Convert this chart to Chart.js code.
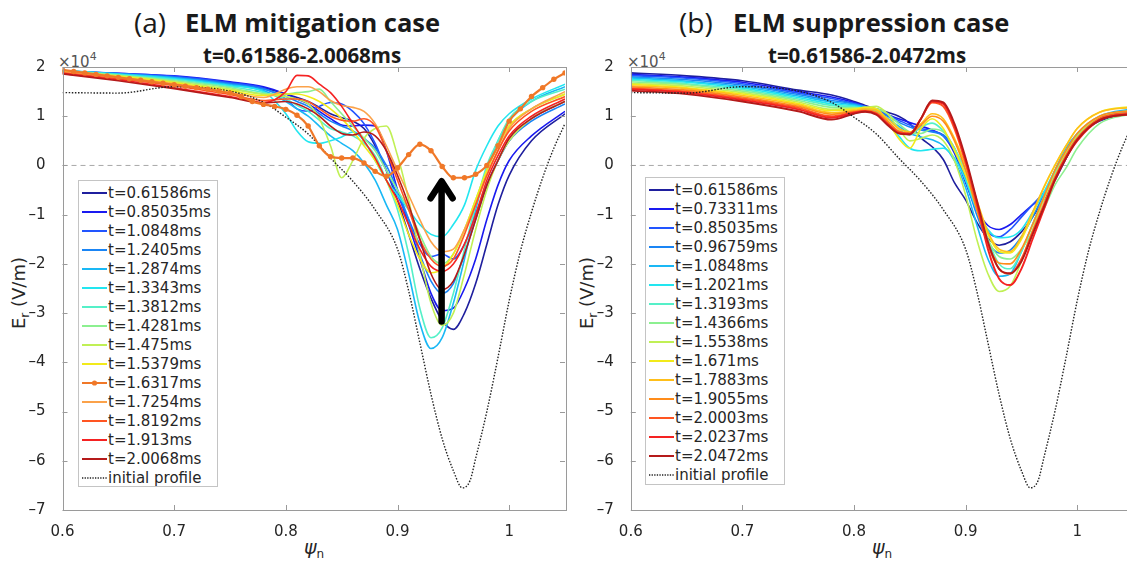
<!DOCTYPE html>
<html>
<head>
<meta charset="utf-8">
<title>Er profiles</title>
<script src="https://cdn.jsdelivr.net/npm/chart.js@4.4.1/dist/chart.umd.min.js"></script>
<style>
  body { margin: 0; width: 1127px; height: 565px; overflow: hidden; background: #fff; position: relative; font-family: "DejaVu Sans", sans-serif; }
  .abs { position: absolute; white-space: nowrap; color: #262626; line-height: 1; }
  .ttlA { font-family: "Open Sans"; font-size: 28px; color: #1a1a1a; }
  .ttlB { font-family: "Open Sans"; font-weight: 700; font-size: 25.5px; color: #1a1a1a; }
  .sub { font-family: "Open Sans"; font-weight: 700; font-size: 20.5px; color: #1a1a1a; }
  .exp { font-size: 15px; color: #555; }
  .exp sup { font-size: 11px; vertical-align: 7px; }
  .ylab { font-size: 18px; transform: translate(-50%, -50%) rotate(-90deg); }
  .ylab sub, .xlab sub { font-size: 12px; vertical-align: -4px; }
  .xlab { font-size: 19px; transform: translate(-50%, -50%); }
  .xlab i { font-style: italic; }
  canvas { position: absolute; top: 0; }
  .legend { position: absolute; background: #fff; border: 1px solid #c4c4c4; box-sizing: border-box; padding-top: 2px; }
  .legend .row { height: 19px; display: flex; align-items: center; font-size: 15px; color: #262626; white-space: nowrap; }
  .legend svg { margin: 0 1px 0 3px; flex: none; }
</style>
</head>
<body>

<div class="abs ttlA" style="left:134px; top:8px;">(a)</div>
<div class="abs ttlB" style="left:185px; top:10px;">ELM mitigation case</div>
<div class="abs sub" style="left:203px; top:45px;">t=0.61586-2.0068ms</div>
<div class="abs exp" style="left:58px; top:51px;">×10<sup>4</sup></div>
<div class="abs ylab" style="left:20px; top:293px;">E<sub>r</sub> (V/m)</div>
<div class="abs xlab" style="left:314px; top:549px;"><i>ψ</i><sub>n</sub></div>

<div class="abs ttlA" style="left:679px; top:8px;">(b)</div>
<div class="abs ttlB" style="left:733px; top:10px;">ELM suppression case</div>
<div class="abs sub" style="left:768px; top:45px;">t=0.61586-2.0472ms</div>
<div class="abs exp" style="left:627px; top:51px;">×10<sup>4</sup></div>
<div class="abs ylab" style="left:588px; top:293px;">E<sub>r</sub> (V/m)</div>
<div class="abs xlab" style="left:882px; top:549px;"><i>ψ</i><sub>n</sub></div>

<canvas id="chartA" width="575" height="565" style="left:0px; width:575px; height:565px;"></canvas>
<canvas id="chartB" width="575" height="565" style="left:568px; width:575px; height:565px;"></canvas>

<div class="legend" id="legendA" style="left:78px; top:180px; width:140px; height:307px;"></div>
<div class="legend" id="legendB" style="left:645px; top:177px; width:140px; height:308px;"></div>

<script>
// ---- axes ----
const xTickValues = [0.6, 0.7, 0.8, 0.9, 1.0];
const yTickValues = [-7, -6, -5, -4, -3, -2, -1, 0, 1, 2];
const zeroLinePsi = [0.6, 1.05];

// common psi grid of the time slices (values in units of 1e4 V/m)
const psiGrid = [0.6, 0.65, 0.7, 0.75, 0.78, 0.8, 0.81, 0.82, 0.83, 0.84, 0.85, 0.86, 0.87, 0.88, 0.89, 0.9, 0.91, 0.92, 0.93, 0.94, 0.95, 0.96, 0.97, 0.98, 0.99, 1.0, 1.02, 1.05];

// initial profile (same in both panels)
const initPsi = [0.6, 0.65, 0.7, 0.75, 0.78, 0.8, 0.82, 0.84, 0.86, 0.88, 0.9, 0.91, 0.92, 0.93, 0.94, 0.95, 0.958, 0.965, 0.97, 0.98, 0.99, 1.0, 1.01, 1.02, 1.03, 1.04, 1.05];
const initEr = [1.48, 1.47, 1.6, 1.51, 1.28, 0.98, 0.64, 0.15, -0.32, -0.9, -1.7, -2.55, -3.6, -4.65, -5.55, -6.2, -6.55, -6.4, -5.95, -5.0, -3.9, -2.75, -1.75, -0.95, -0.25, 0.35, 0.85];

// ---- (a) ELM mitigation ----
const timesA = ["0.61586", "0.85035", "1.0848", "1.2405", "1.2874", "1.3343", "1.3812", "1.4281", "1.475", "1.5379", "1.6317", "1.7254", "1.8192", "1.913", "2.0068"];
const erA01 = [1.90, 1.86, 1.80, 1.68, 1.58, 1.45, 1.38, 1.30, 1.18, 1.05, 0.97, 0.90, 0.75, 0.40, -0.10, -0.70, -1.40, -2.10, -2.70, -3.15, -3.33, -3.00, -2.40, -1.60, -0.80, -0.20, 0.50, 1.05];
const erA02 = [1.91, 1.87, 1.82, 1.70, 1.60, 1.45, 1.35, 1.25, 1.10, 0.95, 0.82, 0.80, 0.82, 0.80, 0.30, -0.50, -1.20, -1.90, -2.60, -2.95, -2.90, -2.50, -1.90, -1.10, -0.40, 0.10, 0.60, 1.10];
const erA03 = [1.92, 1.87, 1.81, 1.68, 1.57, 1.35, 1.15, 1.10, 1.20, 1.28, 1.25, 1.10, 0.85, 0.45, -0.10, -0.60, -1.10, -1.60, -1.85, -1.80, -1.90, -1.60, -1.00, -0.40, 0.10, 0.50, 0.95, 1.30];
const erA04 = [1.92, 1.86, 1.79, 1.66, 1.55, 1.40, 1.30, 1.20, 1.05, 0.90, 0.80, 0.70, 0.55, 0.35, 0.00, -0.50, -1.10, -1.80, -2.35, -2.60, -2.40, -1.80, -1.10, -0.40, 0.10, 0.50, 0.90, 1.25];
const erA05 = [1.93, 1.86, 1.78, 1.64, 1.52, 1.30, 1.15, 1.00, 0.80, 0.60, 0.45, 0.30, 0.05, -0.30, -0.80, -1.30, -2.20, -3.20, -3.72, -3.50, -2.80, -1.90, -0.90, -0.10, 0.50, 0.90, 1.30, 1.60];
const erA06 = [1.93, 1.85, 1.76, 1.62, 1.50, 1.05, 0.70, 0.48, 0.45, 0.50, 0.58, 0.68, 0.50, 0.10, -0.30, -0.60, -0.90, -1.20, -1.40, -1.45, -1.20, -0.80, -0.10, 0.40, 0.80, 1.05, 1.35, 1.65];
const erA07 = [1.93, 1.84, 1.74, 1.60, 1.48, 1.35, 1.22, 1.10, 0.92, 0.75, 0.68, 0.60, 0.45, 0.20, -0.30, -0.90, -1.80, -2.90, -3.50, -3.30, -2.60, -1.70, -0.80, 0.00, 0.50, 0.95, 1.30, 1.55];
const erA08 = [1.92, 1.83, 1.72, 1.58, 1.46, 1.45, 1.48, 1.50, 1.55, 1.30, 1.05, 0.80, 0.55, 0.30, -0.10, -0.50, -0.90, -1.40, -1.85, -2.00, -1.80, -1.30, -0.70, -0.10, 0.40, 0.80, 1.15, 1.45];
const erA09 = [1.92, 1.82, 1.70, 1.55, 1.44, 1.40, 1.35, 1.25, 0.95, 0.40, -0.25, 0.10, 0.55, 0.75, 0.80, 0.20, -0.70, -1.80, -2.80, -3.25, -3.00, -2.20, -1.30, -0.50, 0.10, 0.50, 0.95, 1.30];
const erA10 = [1.91, 1.81, 1.68, 1.52, 1.42, 1.45, 1.45, 1.40, 1.30, 1.15, 0.95, 0.70, 0.40, 0.10, -0.30, -0.80, -1.40, -1.90, -2.18, -2.10, -1.80, -1.30, -0.70, -0.10, 0.40, 0.80, 1.15, 1.45];
const erA12 = [1.90, 1.79, 1.66, 1.48, 1.38, 1.55, 1.60, 1.60, 1.50, 1.32, 1.22, 1.18, 1.10, 0.85, 0.40, -0.10, -0.60, -1.10, -1.55, -1.75, -1.70, -1.30, -0.80, -0.20, 0.30, 0.75, 1.15, 1.50];
const erA13 = [1.88, 1.76, 1.62, 1.44, 1.32, 1.35, 1.35, 1.30, 1.15, 1.00, 0.92, 0.90, 0.95, 0.80, 0.30, -0.30, -0.90, -1.50, -1.90, -2.05, -1.90, -1.40, -0.80, -0.20, 0.30, 0.70, 1.10, 1.40];
const erA14 = [1.87, 1.74, 1.58, 1.40, 1.28, 1.50, 1.83, 1.82, 1.65, 1.48, 1.20, 0.85, 0.50, 0.15, -0.30, -0.70, -1.20, -1.70, -2.05, -2.15, -2.00, -1.60, -1.00, -0.30, 0.20, 0.60, 1.00, 1.35];
const erA15 = [1.86, 1.72, 1.56, 1.38, 1.27, 1.30, 1.25, 1.15, 1.00, 0.80, 0.65, 0.62, 0.68, 0.60, 0.30, -0.20, -0.80, -1.50, -2.20, -2.52, -2.35, -1.80, -1.10, -0.40, 0.10, 0.55, 0.95, 1.30];
// t=1.6317ms is drawn with markers on its own, denser grid
const markerPsi = [0.6, 0.61, 0.62, 0.63, 0.64, 0.65, 0.66, 0.67, 0.68, 0.69, 0.7, 0.71, 0.72, 0.73, 0.74, 0.75, 0.76, 0.77, 0.78, 0.79, 0.8, 0.81, 0.82, 0.83, 0.84, 0.85, 0.86, 0.87, 0.88, 0.89, 0.9, 0.91, 0.92, 0.93, 0.94, 0.95, 0.96, 0.97, 0.98, 0.99, 1.0, 1.01, 1.02, 1.03, 1.04, 1.05];
const erA11 = [1.94, 1.91, 1.88, 1.85, 1.82, 1.79, 1.76, 1.73, 1.70, 1.67, 1.64, 1.61, 1.58, 1.55, 1.51, 1.47, 1.40, 1.30, 1.24, 1.20, 1.14, 1.02, 0.80, 0.40, 0.18, 0.15, 0.15, 0.05, -0.12, -0.22, -0.05, 0.22, 0.43, 0.30, -0.02, -0.25, -0.25, -0.18, 0.00, 0.40, 0.90, 1.15, 1.40, 1.58, 1.75, 1.88];

// arrow in panel (a)
const arrowPsi = 0.9395;
const arrowFrom = -3.17;
const arrowTo = -0.28;

// ---- (b) ELM suppression ----
const timesB = ["0.61586", "0.73311", "0.85035", "0.96759", "1.0848", "1.2021", "1.3193", "1.4366", "1.5538", "1.671", "1.7883", "1.9055", "2.0003", "2.0237", "2.0472"];
const erB01 = [1.88, 1.82, 1.72, 1.53, 1.43, 1.30, 1.22, 1.15, 1.08, 1.00, 0.85, 0.56, 0.38, 0.12, -0.35, -0.70, -1.15, -1.48, -1.62, -1.55, -1.35, -1.05, -0.70, -0.30, 0.15, 0.55, 0.90, 1.08];
const erB02 = [1.85, 1.79, 1.69, 1.50, 1.39, 1.28, 1.20, 1.12, 1.03, 0.95, 0.87, 0.80, 0.72, 0.60, 0.25, -0.35, -0.90, -1.22, -1.30, -1.20, -1.00, -0.80, -0.62, -0.30, 0.15, 0.55, 0.95, 1.10];
const erB03 = [1.83, 1.77, 1.66, 1.47, 1.36, 1.26, 1.20, 1.12, 1.02, 0.92, 0.82, 0.75, 0.70, 0.62, 0.35, -0.25, -0.90, -1.35, -1.45, -1.30, -1.05, -0.80, -0.55, -0.25, 0.15, 0.55, 0.92, 1.08];
const erB04 = [1.80, 1.74, 1.63, 1.44, 1.32, 1.25, 1.19, 1.11, 1.00, 0.88, 0.78, 0.72, 0.68, 0.60, 0.30, -0.30, -1.00, -1.55, -1.78, -1.72, -1.45, -1.05, -0.60, -0.15, 0.25, 0.60, 0.95, 1.10];
const erB05 = [1.78, 1.71, 1.60, 1.41, 1.29, 1.23, 1.18, 1.10, 0.96, 0.80, 0.65, 0.58, 0.52, 0.40, 0.10, -0.45, -1.20, -1.90, -2.25, -2.20, -1.75, -1.20, -0.65, -0.10, 0.35, 0.65, 1.00, 1.15];
const erB06 = [1.75, 1.69, 1.57, 1.38, 1.25, 1.21, 1.15, 1.05, 0.85, 0.60, 0.35, 0.30, 0.33, 0.35, 0.15, -0.30, -0.90, -1.30, -1.47, -1.45, -1.30, -0.95, -0.55, -0.10, 0.30, 0.62, 0.98, 1.12];
const erB07 = [1.73, 1.66, 1.54, 1.35, 1.22, 1.19, 1.15, 1.10, 0.95, 0.75, 0.62, 0.78, 0.86, 0.70, 0.35, -0.10, -0.75, -1.50, -2.00, -2.10, -1.75, -1.20, -0.65, -0.15, 0.25, 0.58, 0.95, 1.10];
const erB08 = [1.70, 1.64, 1.51, 1.32, 1.18, 1.17, 1.16, 1.15, 1.05, 0.85, 0.68, 0.65, 0.74, 0.68, 0.35, -0.20, -0.90, -1.50, -1.85, -1.90, -1.70, -1.35, -0.90, -0.40, -0.05, 0.35, 0.85, 1.05];
const erB09 = [1.67, 1.61, 1.48, 1.29, 1.14, 1.16, 1.18, 1.20, 1.05, 0.75, 0.50, 0.55, 0.62, 0.50, 0.10, -0.60, -1.50, -2.20, -2.56, -2.45, -1.95, -1.30, -0.70, -0.20, 0.25, 0.60, 0.98, 1.12];
const erB10 = [1.65, 1.58, 1.45, 1.26, 1.11, 1.14, 1.18, 1.15, 0.90, 0.55, 0.35, 0.75, 0.95, 0.75, 0.30, -0.20, -0.80, -1.40, -1.75, -1.78, -1.50, -1.00, -0.45, 0.00, 0.40, 0.75, 1.08, 1.20];
const erB11 = [1.62, 1.56, 1.42, 1.23, 1.07, 1.12, 1.15, 1.12, 0.95, 0.75, 0.68, 0.85, 1.05, 0.95, 0.55, 0.00, -0.70, -1.35, -1.70, -1.75, -1.45, -0.95, -0.45, 0.00, 0.40, 0.75, 1.08, 1.18];
const erB12 = [1.60, 1.53, 1.39, 1.20, 1.04, 1.10, 1.12, 1.08, 0.90, 0.70, 0.65, 0.82, 1.00, 0.90, 0.50, -0.10, -0.90, -1.60, -1.98, -2.00, -1.70, -1.20, -0.65, -0.10, 0.30, 0.65, 1.00, 1.12];
const erB13 = [1.57, 1.50, 1.36, 1.17, 1.00, 1.08, 1.10, 1.05, 0.85, 0.68, 0.65, 0.95, 1.28, 1.20, 0.75, 0.05, -0.80, -1.60, -2.10, -2.20, -1.90, -1.35, -0.80, -0.25, 0.20, 0.55, 0.95, 1.08];
const erB14 = [1.55, 1.48, 1.33, 1.14, 0.97, 1.07, 1.10, 1.05, 0.85, 0.66, 0.64, 0.95, 1.30, 1.25, 0.80, 0.10, -0.75, -1.70, -2.30, -2.43, -2.10, -1.50, -0.90, -0.30, 0.15, 0.50, 0.92, 1.05];
const erB15 = [1.52, 1.45, 1.30, 1.10, 0.93, 1.05, 1.09, 1.03, 0.82, 0.65, 0.63, 0.95, 1.32, 1.28, 0.85, 0.15, -0.70, -1.55, -2.10, -2.19, -1.95, -1.40, -0.85, -0.30, 0.15, 0.52, 0.92, 1.05];

// jet(15) colours, slightly softened like the figure
const jetColors = ["#1f1f9e", "#1a1af0", "#2255ff", "#1a85f5", "#1ab8f5", "#22e6f0", "#55f0c8", "#8cf090", "#c0f055", "#f2ea1a", "#ffbf1a", "#ff8c1a", "#ff5522", "#f52222", "#b51a1a"];
const colorsA = jetColors.slice();
colorsA[10] = "#f07828";
colorsA[11] = "#fba24a";

const seriesA = [erA01, erA02, erA03, erA04, erA05, erA06, erA07, erA08, erA09, erA10, erA11, erA12, erA13, erA14, erA15];
const seriesB = [erB01, erB02, erB03, erB04, erB05, erB06, erB07, erB08, erB09, erB10, erB11, erB12, erB13, erB14, erB15];

function pts(xs, ys) {
  return xs.map((x, i) => ({ x: x, y: ys[i] }));
}

function tickText(v) {
  const s = String(+(+v).toFixed(2));
  return s.replace("-", "\u2013");
}

// MATLAB like box with inward ticks
const axesBox = {
  id: "axesBox",
  afterDatasetsDraw(chart) {
    const { ctx, chartArea: a, scales: { x, y } } = chart;
    ctx.save();
    ctx.strokeStyle = "#9a9a9a";
    ctx.lineWidth = 1;
    ctx.strokeRect(Math.round(a.left) + 0.5, Math.round(a.top) + 0.5, Math.round(a.width), Math.round(a.height));
    ctx.beginPath();
    x.ticks.forEach((t) => {
      const px = Math.round(x.getPixelForValue(t.value)) + 0.5;
      ctx.moveTo(px, a.bottom); ctx.lineTo(px, a.bottom - 5);
      ctx.moveTo(px, a.top); ctx.lineTo(px, a.top + 5);
    });
    y.ticks.forEach((t) => {
      const py = Math.round(y.getPixelForValue(t.value)) + 0.5;
      ctx.moveTo(a.left, py); ctx.lineTo(a.left + 5, py);
      ctx.moveTo(a.right, py); ctx.lineTo(a.right - 5, py);
    });
    ctx.stroke();
    ctx.restore();
  },
};

const arrowMark = {
  id: "arrowMark",
  afterDatasetsDraw(chart) {
    const { ctx, scales: { x, y } } = chart;
    const px = x.getPixelForValue(arrowPsi);
    const y0 = y.getPixelForValue(arrowFrom);
    const y1 = y.getPixelForValue(arrowTo);
    ctx.save();
    ctx.strokeStyle = "#000";
    ctx.lineWidth = 6.5;
    ctx.lineCap = "round";
    ctx.lineJoin = "round";
    ctx.beginPath();
    ctx.moveTo(px, y0);
    ctx.lineTo(px, y1 + 3);
    ctx.moveTo(px - 11, y1 + 19);
    ctx.lineTo(px, y1 + 2);
    ctx.lineTo(px + 11, y1 + 19);
    ctx.stroke();
    ctx.restore();
  },
};

function buildDatasets(series, colors, times, markerIndex) {
  const sets = [];
  sets.push({
    label: "zero", data: pts(zeroLinePsi, [0, 0]), borderColor: "#a8a8a8", borderWidth: 1,
    borderDash: [5, 4], pointRadius: 0, order: 100,
  });
  series.forEach((ys, i) => {
    const isMarker = i === markerIndex;
    sets.push({
      label: "t=" + times[i] + "ms",
      data: pts(isMarker ? markerPsi : psiGrid, ys),
      borderColor: colors[i],
      backgroundColor: colors[i],
      borderWidth: isMarker ? 2.2 : (i >= 12 && markerIndex < 0 ? 1.9 : 1.6),
      pointRadius: isMarker ? 2.7 : 0,
      pointBorderWidth: 0,
      cubicInterpolationMode: "monotone",
      order: isMarker ? -100 : -i,
    });
  });
  sets.push({
    label: "initial profile", data: pts(initPsi, initEr), borderColor: "#222", borderWidth: 1.4,
    borderDash: [1.5, 1.6], pointRadius: 0, cubicInterpolationMode: "monotone", order: -50,
  });
  return sets;
}

function makeChart(id, datasets, padLeft, extraPlugins) {
  return new Chart(document.getElementById(id), {
    type: "line",
    data: { datasets: datasets },
    options: {
      responsive: false,
      animation: false,
      events: [],
      layout: { padding: { left: padLeft, top: 67, right: 10, bottom: 10 } },
      plugins: { legend: { display: false }, tooltip: { enabled: false } },
      scales: {
        x: {
          type: "linear", min: 0.6, max: 1.05,
          afterBuildTicks: (s) => { s.ticks = xTickValues.map((v) => ({ value: v })); },
          afterFit: (s) => { s.height = 45; },
          grid: { display: false }, border: { display: false },
          ticks: { callback: tickText, color: "#262626", font: { family: "DejaVu Sans", size: 15 }, padding: 5, maxRotation: 0 },
        },
        y: {
          type: "linear", min: -7, max: 2,
          afterBuildTicks: (s) => { s.ticks = yTickValues.map((v) => ({ value: v })); },
          afterFit: (s) => { s.width = 50; },
          grid: { display: false }, border: { display: false },
          ticks: { callback: tickText, color: "#262626", font: { family: "DejaVu Sans", size: 15 }, padding: 9 },
        },
      },
    },
    plugins: [axesBox].concat(extraPlugins),
  });
}

function buildLegend(id, times, colors, markerIndex) {
  const box = document.getElementById(id);
  let html = "";
  times.forEach((t, i) => {
    let mark = '<line x1="0" y1="5" x2="25" y2="5" stroke="' + colors[i] + '" stroke-width="2"/>';
    if (i === markerIndex) mark += '<circle cx="12.5" cy="5" r="2.6" fill="' + colors[i] + '"/>';
    html += '<div class="row"><svg width="25" height="10">' + mark + "</svg>t=" + t + "ms</div>";
  });
  html += '<div class="row"><svg width="25" height="10"><line x1="0" y1="5" x2="25" y2="5" stroke="#222" stroke-width="1.3" stroke-dasharray="1.3 1.3"/></svg>initial profile</div>';
  box.innerHTML = html;
}

makeChart("chartA", buildDatasets(seriesA, colorsA, timesA, 10), 12.5, [arrowMark]);
makeChart("chartB", buildDatasets(seriesB, jetColors, timesB, -1), 12.8, []);
buildLegend("legendA", timesA, colorsA, 10);
buildLegend("legendB", timesB, jetColors, -1);
</script>
</body>
</html>
